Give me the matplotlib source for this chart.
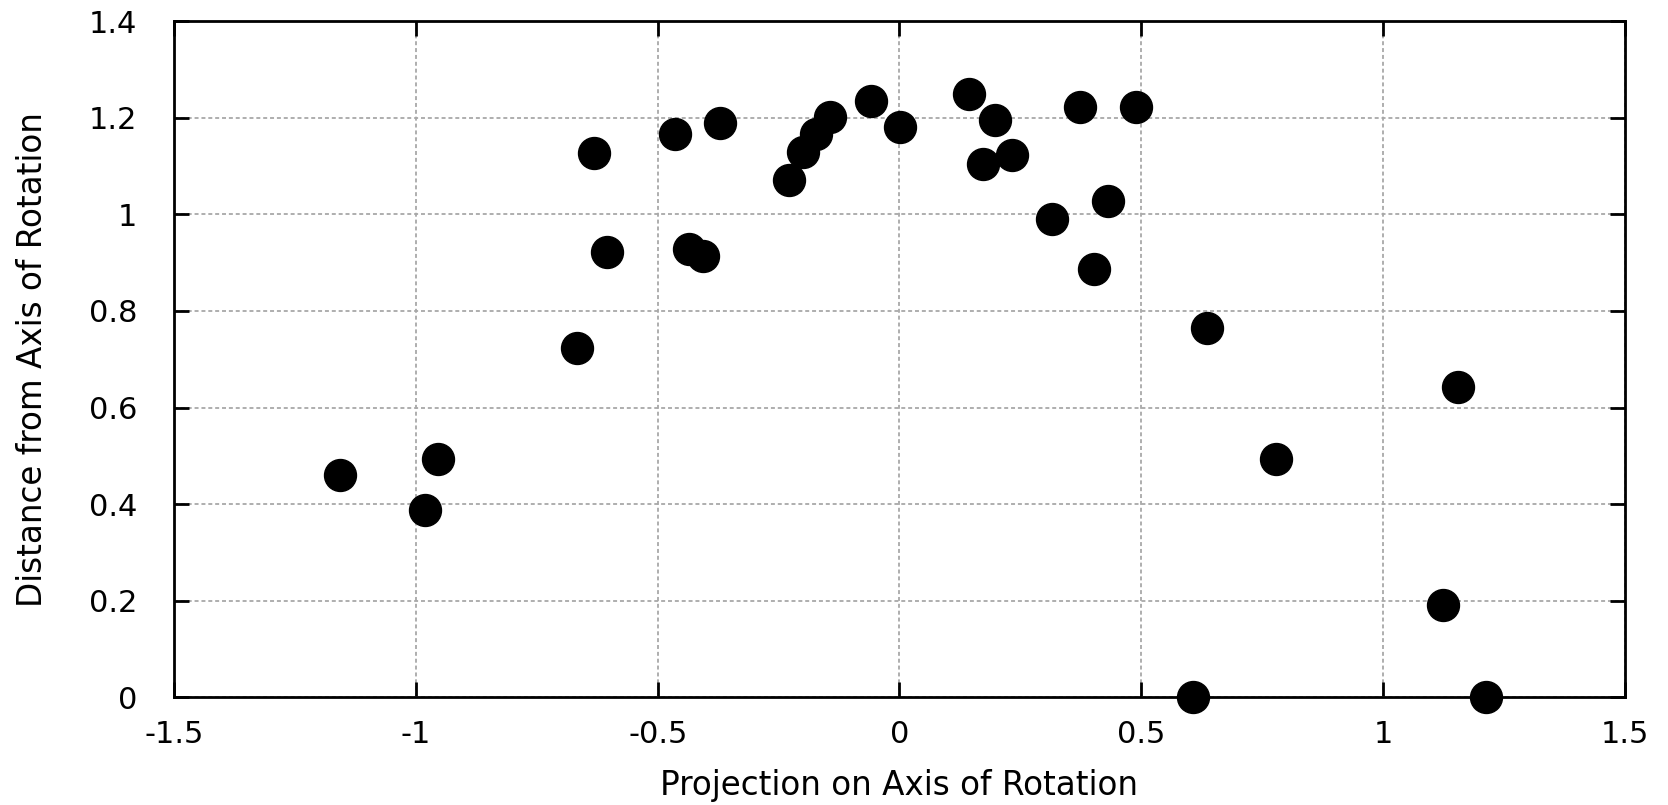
import matplotlib
matplotlib.use("Agg")
import matplotlib.pyplot as plt
from matplotlib.ticker import FixedLocator, FixedFormatter

x_vals = [-1.157, -0.981, -0.955, -0.666, -0.631, -0.605, -0.464, -0.436, -0.407, -0.372,
          -0.229, -0.200, -0.172, -0.143, -0.059, 0.002, 0.143, 0.172, 0.198, 0.233,
          0.315, 0.374, 0.402, 0.431, 0.490, 0.636, 0.607, 0.779, 1.155, 1.124, 1.214]
y_vals = [0.460, 0.387, 0.493, 0.724, 1.127, 0.922, 1.167, 0.929, 0.913, 1.189,
          1.072, 1.129, 1.167, 1.202, 1.235, 1.182, 1.250, 1.105, 1.195, 1.123,
          0.991, 1.222, 0.887, 1.028, 1.222, 0.764, 0.000, 0.493, 0.643, 0.191, 0.000]

x_ticks = [-1.5, -1.0, -0.5, 0.0, 0.5, 1.0, 1.5]
x_tick_labels = ["-1.5", "-1", "-0.5", "0", "0.5", "1", "1.5"]
y_ticks = [0.0, 0.2, 0.4, 0.6, 0.8, 1.0, 1.2, 1.4]
y_tick_labels = ["0", "0.2", "0.4", "0.6", "0.8", "1", "1.2", "1.4"]

plt.rcParams['font.family'] = ['DejaVu Sans']

fig = plt.figure(figsize=(16.68, 8.05), dpi=100)
ax = fig.add_axes([0.1045, 0.1338, 0.8695, 0.8398])

ax.plot(x_vals, y_vals, linestyle='none', marker='o', markersize=23,
        color='black', clip_on=False, zorder=5)

ax.set_xlim(-1.5, 1.5)
ax.set_ylim(0, 1.4)
ax.xaxis.set_major_locator(FixedLocator(x_ticks))
ax.xaxis.set_major_formatter(FixedFormatter(x_tick_labels))
ax.yaxis.set_major_locator(FixedLocator(y_ticks))
ax.yaxis.set_major_formatter(FixedFormatter(y_tick_labels))

ax.grid(True, color='#a8a8a8', linestyle=(0, (2.2, 1.6)), linewidth=1.3)
ax.set_axisbelow(True)

ax.tick_params(direction='in', length=10.5, width=2, top=True, right=True,
               labelsize=22)
ax.tick_params(axis='x', pad=16.5)
ax.tick_params(axis='y', pad=26.5)
for s in ax.spines.values():
    s.set_linewidth(2)

ax.set_xlabel("Projection on Axis of Rotation", fontsize=23.5, va='baseline')
ax.xaxis.set_label_coords(0.5, -0.1438)
ax.set_ylabel("Distance from Axis of Rotation", fontsize=23.5, va='baseline',
              rotation_mode='anchor')
ax.yaxis.set_label_coords(-0.0914, 0.5)

fig.savefig("out.png", dpi=100)
